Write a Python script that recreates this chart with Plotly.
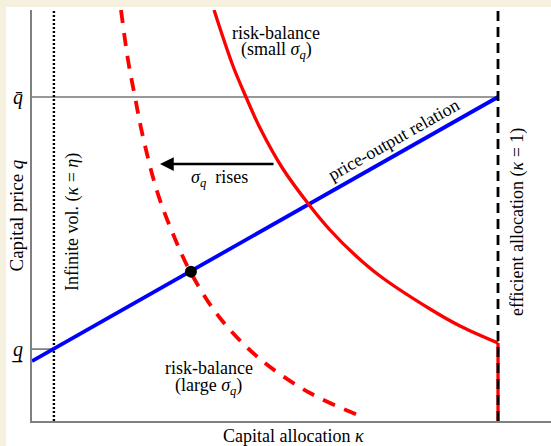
import plotly.graph_objects as go

# ---- data (kappa = capital allocation, q = capital price) ----
kappa_eta = 0.047          # infinite-volatility boundary (kappa = eta)
kappa_eff = 1.0            # efficient allocation (kappa = 1)
q_bar = 1.0
q_low = 0.222
x_max = 1.1137
y_max = 1.2685

price_output_kappa = [0.0, 1.0]
price_output_q = [0.185, 1.0]

rb_small_kappa = [0.3906, 0.4313, 0.4592, 0.4893, 0.5386, 0.5966, 0.6395, 0.6931, 0.7468, 0.8541, 0.9185, 1.0]
rb_small_q = [1.2685, 1.0957, 1.0, 0.9043, 0.7778, 0.6636, 0.5895, 0.5123, 0.4475, 0.3457, 0.2932, 0.2407]

rb_large_kappa = [0.1910, 0.2060, 0.2210, 0.2382, 0.2682, 0.3026, 0.3412, 0.4034, 0.4893, 0.5966, 0.7103]
rb_large_q = [1.2685, 1.1142, 1.0, 0.8765, 0.7099, 0.5772, 0.4568, 0.3179, 0.1914, 0.0864, 0.0123]

eq_kappa = [0.341]
eq_q = [0.461]

arrow_from = (0.5215, 0.7932)
arrow_to = (0.2747, 0.7932)

ytick_vals = [q_low, q_bar]
ytick_text = ["<i>q\u0332</i>", "<i>q\u0304</i>"]

FONT = "Liberation Serif"

fig = go.Figure()

# q-bar reference line
fig.add_trace(go.Scatter(x=[0, kappa_eff], y=[q_bar, q_bar], mode="lines",
                         line=dict(color="#333333", width=1.1), hoverinfo="skip"))
# q-low reference tick
fig.add_trace(go.Scatter(x=[0, kappa_eta], y=[q_low, q_low], mode="lines",
                         line=dict(color="#333333", width=1.1), hoverinfo="skip"))
# infinite vol dotted line
fig.add_trace(go.Scatter(x=[kappa_eta, kappa_eta], y=[0, y_max], mode="lines",
                         line=dict(color="black", width=2.4, dash="2px,2px"), hoverinfo="skip"))
# price-output relation
fig.add_trace(go.Scatter(x=price_output_kappa, y=price_output_q, mode="lines",
                         line=dict(color="#0000ff", width=3.8), hoverinfo="skip"))
# risk-balance small sigma
fig.add_trace(go.Scatter(x=rb_small_kappa, y=rb_small_q, mode="lines",
                         line=dict(color="#ff0000", width=3.3, shape="spline"), hoverinfo="skip"))
# risk-balance large sigma (dashed)
fig.add_trace(go.Scatter(x=rb_large_kappa, y=rb_large_q, mode="lines",
                         line=dict(color="#ff0000", width=3.8, dash="13px,10px", shape="spline"),
                         hoverinfo="skip"))
# red vertical segment at kappa = 1
fig.add_trace(go.Scatter(x=[kappa_eff, kappa_eff], y=[0, rb_small_q[-1]], mode="lines",
                         line=dict(color="#ff0000", width=3.3), hoverinfo="skip"))
# efficient allocation dashed line
fig.add_trace(go.Scatter(x=[kappa_eff, kappa_eff], y=[0, y_max], mode="lines",
                         line=dict(color="black", width=2.8, dash="10px,6px"), hoverinfo="skip"))
# equilibrium point
fig.add_trace(go.Scatter(x=eq_kappa, y=eq_q, mode="markers",
                         marker=dict(color="black", size=12), hoverinfo="skip"))

ann = []
def txt(x, y, t, angle=0, size=18, xref="x", yref="y"):
    ann.append(dict(x=x, y=y, xref=xref, yref=yref, text=t, showarrow=False,
                    textangle=angle, font=dict(family=FONT, size=size, color="black"),
                    xanchor="center", yanchor="middle"))

txt(0.5236, 1.1975, "risk-balance")
txt(0.5236, 1.1420, "(small <i>σ</i><sub><i>q</i></sub>)")
txt(0.3798, 0.1636, "risk-balance")
txt(0.3798, 0.1080, "(large <i>σ</i><sub><i>q</i></sub>)")
txt(0.4034, 0.7500, "<i>σ</i><sub><i>q</i></sub>  rises")
txt(0.7747, 0.8680, "price-output relation", angle=-29.5)
txt(0.0858, 0.6142, "Infinite vol. (<i>κ</i> = <i>η</i>)", angle=-90)
txt(1.0408, 0.6142, "efficient allocation (<i>κ</i> = 1)", angle=-90)
txt(0.503, -0.0365, "Capital allocation <i>κ</i>", xref="paper", yref="paper")
txt(-0.0308, 0.5, "Capital price <i>q</i>", angle=-90, size=19, xref="paper", yref="paper")

ann.append(dict(x=arrow_to[0], y=arrow_to[1], ax=arrow_from[0], ay=arrow_from[1],
                xref="x", yref="y", axref="x", ayref="y", text="", showarrow=True,
                arrowhead=2, arrowsize=1.1, arrowwidth=2.5, arrowcolor="black"))

fig.update_layout(
    width=551, height=446,
    margin=dict(l=32, r=0, t=10, b=25, autoexpand=False),
    paper_bgcolor="#f6f0df",
    plot_bgcolor="white",
    showlegend=False,
    font=dict(family=FONT, size=18, color="black"),
    annotations=ann,
    shapes=[dict(type="rect", xref="paper", yref="paper", x0=-0.0501, x1=1.02,
                 y0=-0.08, y1=1.0073, fillcolor="white", line=dict(width=0), layer="below")],
    xaxis=dict(range=[0, x_max], showline=True, linecolor="#808080", linewidth=2,
               showgrid=False, zeroline=False, showticklabels=False, ticks="",
               fixedrange=True, automargin=False),
    yaxis=dict(range=[0, y_max], showline=True, linecolor="#808080", linewidth=2,
               showgrid=False, zeroline=False, ticks="", tickvals=ytick_vals, ticktext=ytick_text,
               tickfont=dict(family=FONT, size=20), ticklabelstandoff=3,
               fixedrange=True, automargin=False),
)

fig.write_html("out.html", config={"displayModeBar": False},
               post_script="document.body.style.margin='0';document.body.style.overflow='hidden';")
